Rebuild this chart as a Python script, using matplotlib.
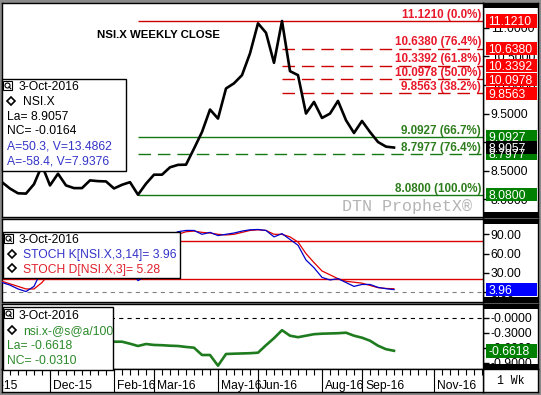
import numpy as np
import pandas as pd
import matplotlib
matplotlib.use('Agg')
import matplotlib.pyplot as plt
import matplotlib.dates as mdates
import matplotlib.transforms as mtrans
from matplotlib.patches import Rectangle
from matplotlib.lines import Line2D

# ---------------- data ----------------
weeks = pd.date_range('2015-10-26', '2016-10-03', freq='W-MON')
close = [8.300, 8.188, 8.105, 8.100, 8.265, 8.594, 8.243, 8.448, 8.243, 8.196,
         8.196, 8.331, 8.318, 8.313, 8.190, 8.254, 8.300, 8.080, 8.273, 8.431,
         8.431, 8.560, 8.603, 8.606, 8.887, 9.178, 9.571, 9.413, 9.940, 10.030,
         10.173, 10.554, 11.080, 10.915, 10.389, 11.121, 10.243, 10.173, 9.501, 9.705,
         9.424, 9.500, 9.722, 9.384, 9.161, 9.371, 9.178, 9.003, 8.922, 8.9057]
stoch_k = [15, 11, 5, 1, 9, 35, 45, 52, 48, 40,
           35, 42, 44, 45, 35, 32, 34, 18, 25, 45,
           75, 88, 94, 96, 96, 90, 93, 88, 90, 92,
           95, 97, 97.5, 96, 86, 91, 82, 73, 50, 38,
           23, 19, 21, 15, 9, 12, 12, 7.5, 5.4, 3.96]
stoch_d = [17, 13, 9, 5, 5, 15, 30, 44, 48, 47,
           41, 39, 40, 44, 41, 37, 34, 28, 26, 29,
           55, 76, 90, 94, 95, 93, 92, 90, 89, 90,
           93, 96, 97, 96, 90, 90, 86, 78, 60, 46,
           33, 27, 21, 17, 15.5, 14, 10.5, 7, 5.8, 5.28]
spread_weeks = pd.date_range('2016-01-25', '2016-10-03', freq='W-MON')
spread = [-0.48, -0.48, -0.48, -0.52, -0.566, -0.526, -0.545, -0.55, -0.56, -0.566,
          -0.585, -0.60, -0.746, -0.746, -0.96, -0.726, -0.72, -0.715, -0.71, -0.70,
          -0.55, -0.41, -0.25, -0.36, -0.39, -0.36, -0.33, -0.32, -0.315, -0.31,
          -0.30, -0.36, -0.40, -0.46, -0.56, -0.63, -0.6618]

low_date = '2016-02-22'
high_date = '2016-06-27'
res_levels = [11.1210, 10.6380, 10.3392, 10.0978, 9.8563]
res_labels = ['11.1210 (0.0%)', '10.6380 (76.4%)', '10.3392 (61.8%)',
              '10.0978 (50.0%)', '9.8563 (38.2%)']
sup_levels = [9.0927, 8.7977, 8.0800]
sup_labels = ['9.0927 (66.7%)', '8.7977 (76.4%)', '8.0800 (100.0%)']

price_ticks = [8.0, 8.5, 9.0, 9.5, 10.0, 10.5, 11.0]
stoch_ticks = [0, 30, 60, 90]
spread_ticks = [-0.9, -0.6, -0.3, 0.0]
spread_tick_labels = ['-0.9000', '-0.6000', '-0.3000', '-0.0000']

month_dates = ['2015-10-05', '2015-12-07', '2016-02-01', '2016-03-07', '2016-05-02',
               '2016-06-06', '2016-08-01', '2016-09-05', '2016-11-07']
month_labels = ['Oct-15', 'Dec-15', 'Feb-16', 'Mar-16', 'May-16',
                'Jun-16', 'Aug-16', 'Sep-16', 'Nov-16']

# ---------------- figure ----------------
W, H = 541, 395
plt.rcParams['font.family'] = ['Liberation Sans', 'DejaVu Sans']
plt.rcParams['lines.scale_dashes'] = False
FS = 8.7

fig = plt.figure(figsize=(W / 100, H / 100), dpi=100)
fig.patch.set_facecolor('#8a8a8a')


def px_axes(x0, y0, x1, y1):
    return fig.add_axes([x0 / W, 1 - y1 / H, (x1 - x0) / W, (y1 - y0) / H])


def style_box(ax):
    ax.set_facecolor('white')
    for s in ax.spines.values():
        s.set_color('black')
        s.set_linewidth(1.0)
    ax.set_xticks([])
    ax.set_yticks([])


# right strips (drawn first)
for (y0, y1) in [(3, 216.5), (219, 301.5), (304, 369), (369, 392)]:
    style_box(px_axes(483, y0, 538, y1))
swk = fig.axes[-1]
swk.text(0.5, 0.47, '1 Wk', ha='center', va='center', family='Liberation Mono',
         fontsize=8.3, color='black')

xw = mdates.date2num(weeks.to_pydatetime())
xmin = xw[0]
xmax = xmin + 60.125 * 7
x_low = mdates.date2num(pd.Timestamp(low_date).to_pydatetime())
x_high = mdates.date2num(pd.Timestamp(high_date).to_pydatetime())

panel_px = {}


def panel(y0, y1, ylim):
    ax = px_axes(2, y0, 483, y1)
    ax.set_facecolor('white')
    for s in ax.spines.values():
        s.set_color('black')
        s.set_linewidth(1.0)
    ax.set_xlim(xmin, xmax)
    ax.set_ylim(*ylim)
    ax.tick_params(axis='x', which='both', bottom=False, labelbottom=False)
    ax.yaxis.tick_right()
    ax.tick_params(axis='y', direction='out', length=4, width=1, pad=1.5,
                   labelsize=FS, colors='black')
    panel_px[ax] = (y1 - y0)
    return ax


def right_box(ax, value, text, fc, tc='white'):
    lo, hi = ax.get_ylim()
    h = 13.5 * (hi - lo) / panel_px[ax]
    tr = mtrans.blended_transform_factory(ax.transAxes, ax.transData)
    ax.add_patch(Rectangle((1.0052, value - h / 2), 0.107, h, transform=tr,
                           fc=fc, ec='none', clip_on=False, zorder=5))
    ax.text(1.0114, value, text, transform=tr, color=tc, fontsize=FS,
            ha='left', va='center_baseline', clip_on=False, zorder=6)


def bars(ax):
    hp = panel_px[ax]
    for yb in (0, 1 - 5 / hp):
        ax.add_patch(Rectangle((1.0, yb), 1.1143 - 1.0, 5 / hp,
                               transform=ax.transAxes, fc='black', ec='none',
                               clip_on=False, zorder=8))


# ---- panel 1: price ----
ax1 = panel(3, 216.5, (7.699, 11.436))
ax1.plot(xw, close, color='black', lw=1.9, zorder=4)
red_line = '#cc0000'
green_line = '#137a13'
dash = (0, (9, 5))
ax1.hlines(res_levels[0], x_low, xmax, color=red_line, lw=1.0)
for lv in res_levels[1:]:
    ax1.hlines(lv, x_high, xmax, color=red_line, lw=1.0, linestyles=[dash])
ax1.hlines(sup_levels[0], x_low, xmax, color=green_line, lw=1.0)
ax1.hlines(sup_levels[1], x_low, xmax, color=green_line, lw=1.0, linestyles=[dash])
ax1.hlines(sup_levels[2], x_low, xmax, color=green_line, lw=1.0)

lab_tr = mtrans.offset_copy(
    mtrans.blended_transform_factory(ax1.transAxes, ax1.transData),
    fig=fig, x=0, y=2.3, units='points')
for lv, lb in zip(res_levels, res_labels):
    ax1.text(479 / 481, lv, lb, transform=lab_tr, ha='right', va='baseline',
             color='#e8182a', fontsize=8.4, fontweight='bold', zorder=6)
for lv, lb in zip(sup_levels, sup_labels):
    ax1.text(479 / 481, lv, lb, transform=lab_tr, ha='right', va='baseline',
             color='#2d7d1d', fontsize=8.4, fontweight='bold', zorder=6)

ax1.set_yticks(price_ticks)
ax1.set_yticklabels([f'{t:.4f}' for t in price_ticks])
for lv, lb in zip(res_levels, res_labels):
    right_box(ax1, lv, lb.split(' ')[0], '#ff0000')
for lv, lb in zip(sup_levels, sup_labels):
    right_box(ax1, lv, lb.split(' ')[0], '#008000')
right_box(ax1, close[-1], f'{close[-1]:.4f}', '#000000')
bars(ax1)

# ---- panel 2: stochastics ----
ax2 = panel(219, 301.5, (-14.5, 113.8))
ax2.hlines([80, 20], xmin, xmax, color='#dd0000', lw=1.0)
ax2.hlines(0, xmin, xmax, color='#808080', lw=0.8, linestyles=[(0, (3, 3))])
ax2.plot(xw, stoch_d, color='#e00000', lw=0.9, zorder=4)
ax2.plot(xw, stoch_k, color='#0000cc', lw=0.9, zorder=4)
ax2.set_yticks(stoch_ticks)
ax2.set_yticklabels([f'{t:.2f}' for t in stoch_ticks])
right_box(ax2, stoch_k[-1], f'{stoch_k[-1]:.2f}', '#0000ff')
bars(ax2)

# ---- panel 3: spread ----
ax3 = panel(304, 369, (-1.026, 0.274))
ax3.hlines(0, xmin, xmax, color='black', lw=0.8, linestyles=[(0, (3, 3))])
xs = mdates.date2num(spread_weeks.to_pydatetime())
ax3.plot(xs, spread, color='#1e7b1e', lw=1.9, zorder=4)
ax3.set_yticks(spread_ticks)
ax3.set_yticklabels(spread_tick_labels)
right_box(ax3, spread[-1], f'{spread[-1]:.4f}', '#008000')
bars(ax3)

# ---- date strip ----
axd = px_axes(2, 369, 483, 392)
style_box(axd)
axd.set_xlim(xmin, xmax)
axd.set_ylim(0, 1)
minor = mdates.date2num(pd.date_range('2015-10-05', '2016-12-26', freq='W-MON').to_pydatetime())
axd.vlines(minor, 0.72, 1.0, color='black', lw=0.8)
major = mdates.date2num(pd.to_datetime(month_dates).to_pydatetime())
axd.vlines(major, 0, 1, color='black', lw=0.8)
dtr = mtrans.offset_copy(axd.transData, fig=fig, x=2.2, y=2.0, units='points')
for xm, lb in zip(major, month_labels):
    axd.text(xm, 0, lb, transform=dtr, fontsize=FS, ha='left', va='baseline',
             clip_on=True)


# ---------------- overlay texts / legends ----------------
def fx(x):
    return x / W


def fy(y):
    return 1 - y / H


def ftext(x, yc, s, color='black', size=FS, weight='normal', ha='left', family=None):
    kw = {}
    if family:
        kw['family'] = family
    fig.text(fx(x), fy(yc + 4.3), s, color=color, fontsize=size, fontweight=weight,
             ha=ha, va='baseline', zorder=12, **kw)


def fbox(x0, y0, x1, y1):
    fig.add_artist(Rectangle((fx(x0), fy(y1)), (x1 - x0) / W, (y1 - y0) / H,
                             transform=fig.transFigure, fc='white', ec='black',
                             lw=1.0, zorder=10))


def icon(x, y):
    fig.add_artist(Rectangle((fx(x), fy(y + 9)), 9 / W, 9 / H, transform=fig.transFigure,
                             fc='white', ec='black', lw=0.8, zorder=11))
    fig.add_artist(Line2D([fx(x + 4.3)], [fy(y + 4.0)], marker='o', ms=3.6, mfc='none',
                          mec='black', mew=0.8, transform=fig.transFigure, zorder=12))
    fig.add_artist(Line2D([fx(x + 6.0), fx(x + 7.8)], [fy(y + 5.8), fy(y + 7.8)],
                          color='black', lw=0.8, transform=fig.transFigure, zorder=12))


def diamond(x, y):
    fig.add_artist(Line2D([fx(x)], [fy(y)], marker='D', ms=3.7, mfc='white',
                          mec='black', mew=1.2, transform=fig.transFigure, zorder=12))


# title and watermark
ftext(158.5, 34, 'NSI.X WEEKLY CLOSE', weight='bold', size=8.2, ha='center')
fig.text(fx(406.7), fy(211), 'DTN ProphetX®', family='Liberation Mono', fontsize=12,
         color='#b4b4b4', ha='center', va='baseline', zorder=3)

blue_t = '#3434c8'
red_t = '#e0202c'
green_t = '#2b8a2b'

# legend 1
fbox(1.7, 79, 125.7, 170.7)
icon(3, 81)
ftext(18.3, 85.7, '3-Oct-2016')
diamond(11.2, 101)
ftext(22.7, 101, 'NSI.X')
ftext(7.3, 115.5, f'La= {close[-1]:.4f}')
ftext(7.3, 130, 'NC= -0.0164')
ftext(7.3, 145.5, 'A=50.3, V=13.4862', color=blue_t)
ftext(7.3, 160.5, 'A=-58.4, V=7.9376', color=blue_t)

# legend 2
fbox(2.7, 231.7, 180, 278.3)
icon(3.5, 233.5)
ftext(18.3, 238.5, '3-Oct-2016')
diamond(11.7, 253.5)
ftext(22.7, 253.5, f'STOCH K[NSI.X,3,14]= {stoch_k[-1]:.2f}', color=blue_t)
diamond(11.7, 268.3)
ftext(22.7, 268.3, f'STOCH D[NSI.X,3]= {stoch_d[-1]:.2f}', color=red_t)

# legend 3
fbox(2.7, 307.3, 113.3, 369.5)
icon(3.5, 309)
ftext(18.3, 315, '3-Oct-2016')
diamond(11.7, 330)
ftext(22.7, 330, 'nsi.x-@s@a/100', color=green_t)
ftext(7.3, 345, f'La= {spread[-1]:.4f}', color=green_t)
ftext(7.3, 359.3, 'NC= -0.0310', color=green_t)

fig.savefig('out.png', dpi=100, facecolor=fig.get_facecolor())
